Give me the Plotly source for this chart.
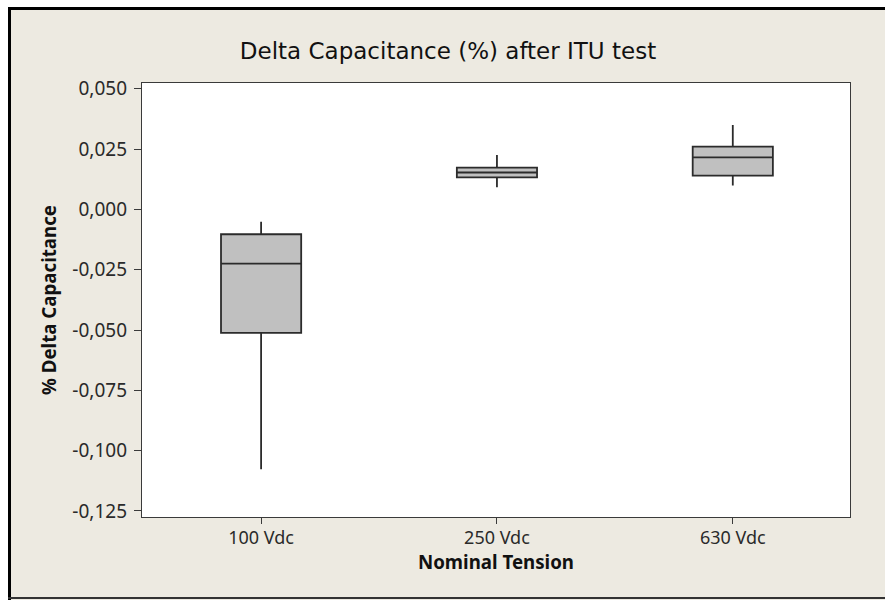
import plotly.graph_objects as go

# Box summaries per nominal tension (percent change in capacitance)
categories = ["100 Vdc", "250 Vdc", "630 Vdc"]
lower_whisker = [-0.1077, 0.0092, 0.0099]
q1 = [-0.0512, 0.0133, 0.0140]
median = [-0.0225, 0.0153, 0.0216]
q3 = [-0.0103, 0.0173, 0.0260]
upper_whisker = [-0.0051, 0.0226, 0.0350]

y_tick_values = [0.050, 0.025, 0.000, -0.025, -0.050, -0.075, -0.100, -0.125]
y_tick_labels = ["0,050", "0,025", "0,000", "-0,025", "-0,050", "-0,075", "-0,100", "-0,125"]

W, H = 885, 600
ML, MR, MT, MB = 142, 35, 83, 83
PW, PH = W - ML - MR, H - MT - MB
BEIGE = "#EDEAE1"
FONT = "Noto Sans"
TITLE_FONT = "DejaVu Sans"


def px_x(px):
    return (px - ML) / PW


def px_y(py):
    return (H - MB - py) / PH


fig = go.Figure()
fig.add_trace(go.Box(
    x=categories,
    q1=q1,
    median=median,
    q3=q3,
    lowerfence=lower_whisker,
    upperfence=upper_whisker,
    width=0.34,
    fillcolor="#C0C0C0",
    line=dict(color="#2b2b2b", width=1.8),
    whiskerwidth=0,
    boxpoints=False,
    hoverinfo="skip",
    showlegend=False,
))

fig.update_layout(
    width=W,
    height=H,
    margin=dict(l=ML, r=MR, t=MT, b=MB, pad=0),
    paper_bgcolor=BEIGE,
    plot_bgcolor="white",
    font=dict(family=FONT, color="#2a2a2a"),
    title=dict(
        text="Delta Capacitance (%) after ITU test",
        x=448 / W,
        xanchor="center",
        y=1 - 51 / H,
        yanchor="middle",
        font=dict(family=TITLE_FONT, size=23, color="#111111"),
    ),
    xaxis=dict(
        type="category",
        range=[-0.505, 2.497],
        showline=True,
        mirror=True,
        linecolor="#3a3a3a",
        linewidth=1.3,
        ticks="outside",
        ticklen=6,
        tickwidth=1,
        tickcolor="#3a3a3a",
        ticklabelstandoff=-2,
        showgrid=False,
        zeroline=False,
        tickfont=dict(family=FONT, size=18, color="#2a2a2a"),
        title=dict(
            text="<b>Nominal Tension</b>",
            font=dict(family=FONT, size=18.7, color="#111111"),
            standoff=2,
        ),
    ),
    yaxis=dict(
        range=[-0.1275, 0.0524],
        tickvals=y_tick_values,
        ticktext=y_tick_labels,
        showline=True,
        mirror=True,
        linecolor="#3a3a3a",
        linewidth=1.3,
        ticks="outside",
        ticklen=7,
        tickwidth=1,
        tickcolor="#3a3a3a",
        ticklabelstandoff=3,
        showgrid=False,
        zeroline=False,
        tickfont=dict(family=FONT, size=19, color="#2a2a2a"),
        title=dict(
            text="<b>% Delta Capacitance</b>",
            font=dict(family=FONT, size=18.7, color="#111111"),
            standoff=10,
        ),
    ),
    shapes=[
        # white margin outside the frame (top and left)
        dict(type="rect", xref="paper", yref="paper",
             x0=px_x(0), x1=px_x(W), y0=px_y(7), y1=px_y(0),
             fillcolor="white", line_width=0, layer="above"),
        dict(type="rect", xref="paper", yref="paper",
             x0=px_x(0), x1=px_x(8), y0=px_y(H), y1=px_y(0),
             fillcolor="white", line_width=0, layer="above"),
        # dark frame lines
        dict(type="line", xref="paper", yref="paper",
             x0=px_x(8), x1=px_x(W), y0=px_y(8.5), y1=px_y(8.5),
             line=dict(color="#000000", width=3), layer="above"),
        dict(type="line", xref="paper", yref="paper",
             x0=px_x(9.5), x1=px_x(9.5), y0=px_y(H), y1=px_y(7),
             line=dict(color="#000000", width=3), layer="above"),
        dict(type="line", xref="paper", yref="paper",
             x0=px_x(8), x1=px_x(W), y0=px_y(598), y1=px_y(598),
             line=dict(color="#333333", width=2), layer="above"),
    ],
)

fig.write_html("out.html")
